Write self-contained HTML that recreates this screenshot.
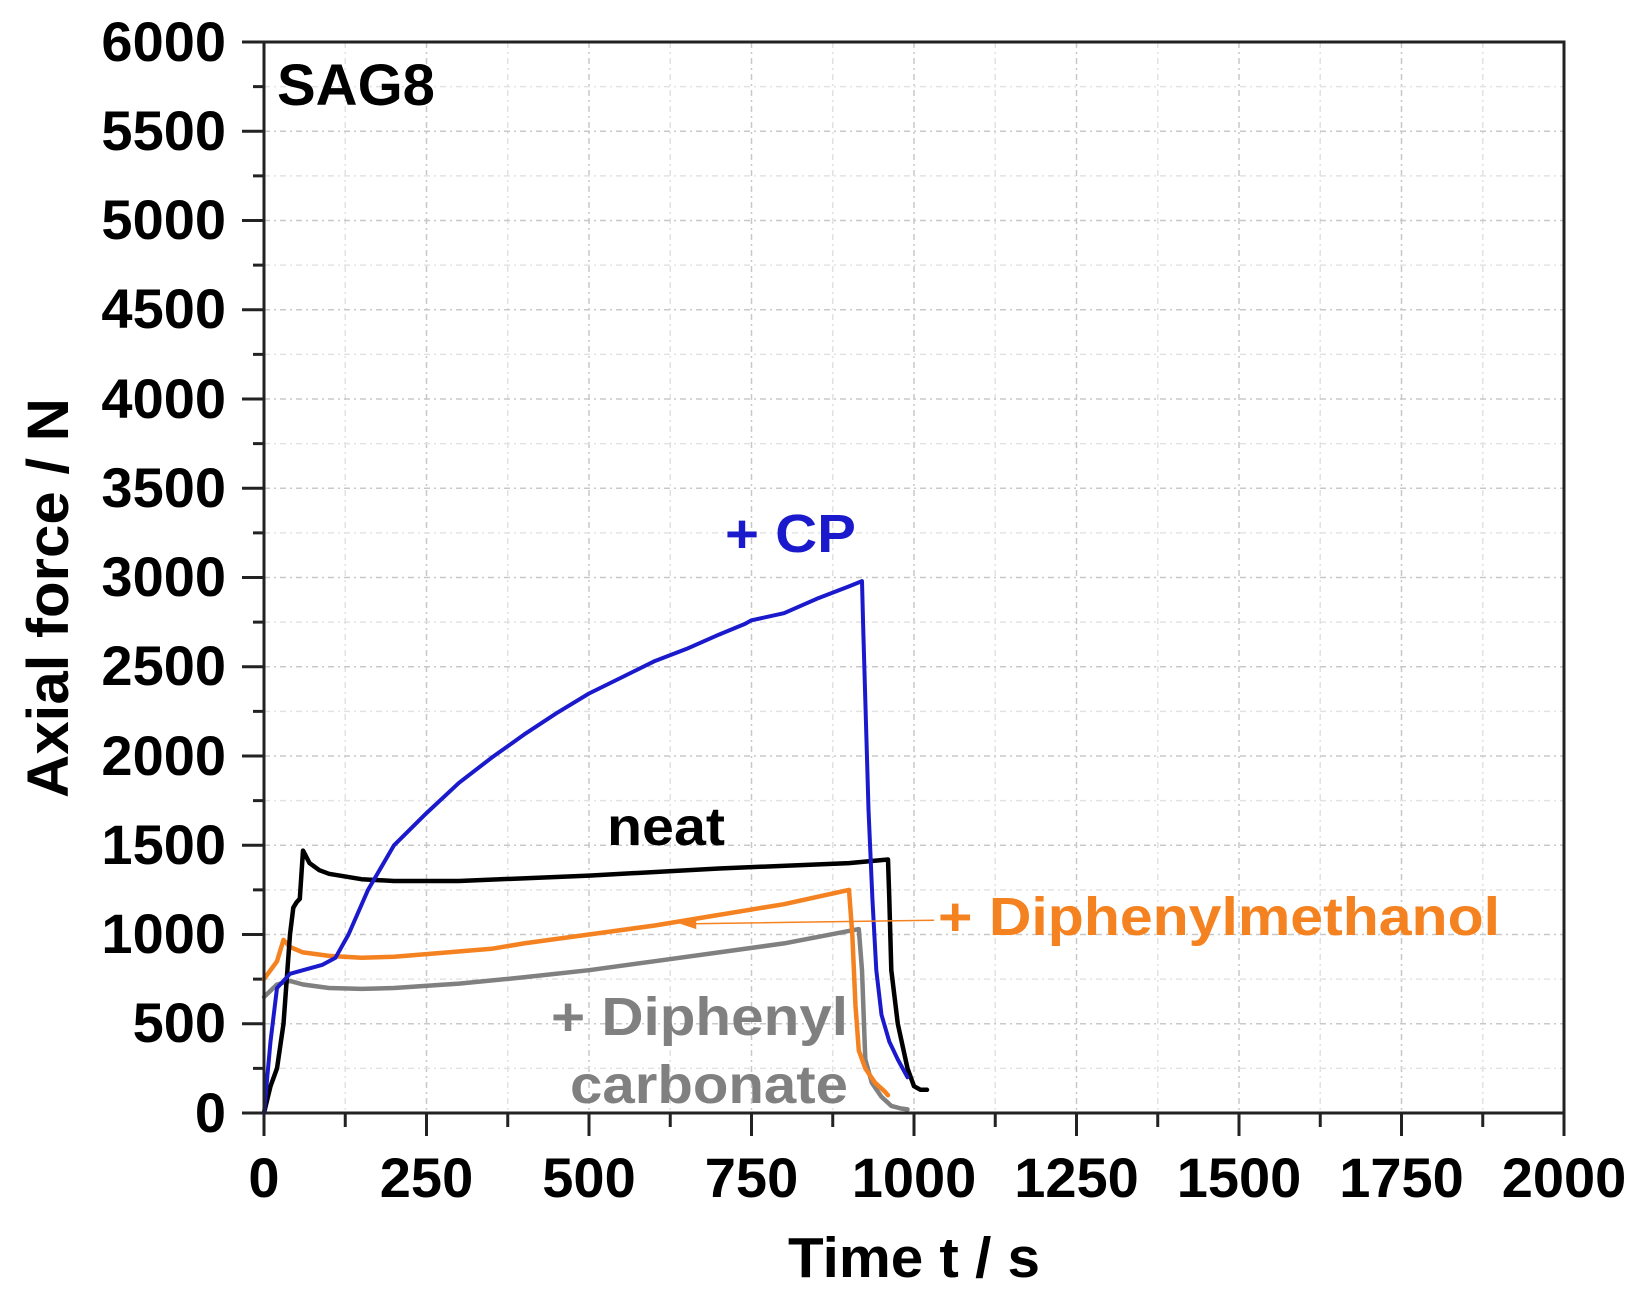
<!DOCTYPE html>
<html><head><meta charset="utf-8"><style>
html,body{margin:0;padding:0;background:#fff;}
svg{display:block;}
text{font-family:"Liberation Sans",Arial,sans-serif;font-weight:bold;}
</style></head><body>
<svg id="s" width="1647" height="1301" viewBox="0 0 1647 1301" xmlns="http://www.w3.org/2000/svg">
<g id="grid"></g>
<g id="ticks"></g>
<g id="curves" fill="none" stroke-linejoin="round" stroke-linecap="round"></g>
<rect x="264" y="42" width="1300" height="1071" fill="none" stroke="#222" stroke-width="3"/>
<line x1="242" y1="42" x2="264" y2="42" stroke="#222" stroke-width="3"/>
<g font-size="56" text-anchor="end" fill="#000">
<text x="226" y="61">6000</text><text x="226" y="150">5500</text><text x="226" y="239">5000</text>
<text x="226" y="328">4500</text><text x="226" y="418">4000</text><text x="226" y="507">3500</text>
<text x="226" y="596">3000</text><text x="226" y="685">2500</text><text x="226" y="775">2000</text>
<text x="226" y="864">1500</text><text x="226" y="953">1000</text><text x="226" y="1042">500</text>
<text x="226" y="1132">0</text>
</g>
<g font-size="56" text-anchor="middle" fill="#000">
<text x="264" y="1197">0</text><text x="426.5" y="1197">250</text><text x="589" y="1197">500</text>
<text x="751.5" y="1197">750</text><text x="914" y="1197">1000</text><text x="1076.5" y="1197">1250</text>
<text x="1239" y="1197">1500</text><text x="1401.5" y="1197">1750</text><text x="1564" y="1197">2000</text>
</g>
<text x="788" y="1277" font-size="57" textLength="252" lengthAdjust="spacingAndGlyphs">Time t / s</text>
<text transform="translate(68,598) rotate(-90)" font-size="58" text-anchor="middle" textLength="400" lengthAdjust="spacingAndGlyphs">Axial force / N</text>
<text x="277" y="105" font-size="58">SAG8</text>
<text x="725" y="552" font-size="54" fill="#1a1acc" textLength="131" lengthAdjust="spacingAndGlyphs">+ CP</text>
<text x="607" y="845" font-size="54" fill="#000" textLength="118" lengthAdjust="spacingAndGlyphs">neat</text>
<text x="938" y="935" font-size="54" fill="#f58220" textLength="562" lengthAdjust="spacingAndGlyphs">+ Diphenylmethanol</text>
<text x="551" y="1035" font-size="54" fill="#808080" textLength="297" lengthAdjust="spacingAndGlyphs">+ Diphenyl</text>
<text x="570" y="1103" font-size="54" fill="#808080" textLength="278" lengthAdjust="spacingAndGlyphs">carbonate</text>
</svg>
<script>
var NS="http://www.w3.org/2000/svg";
function X(t){return 264+0.65*t;} function Y(f){return 1113-0.1785*f;}
function el(p,n,a){var e=document.createElementNS(NS,n);for(var k in a)e.setAttribute(k,a[k]);document.getElementById(p).appendChild(e);return e;}
for(var t=125;t<2000;t+=125){el("grid","line",{x1:X(t),y1:42,x2:X(t),y2:1113,stroke:t%250?"#e2e2e2":"#c8c8c8","stroke-width":1.5,"stroke-dasharray":"6,4,2,4"});}
for(var f=250;f<6000;f+=250){el("grid","line",{x1:264,y1:Y(f),x2:1564,y2:Y(f),stroke:f%500?"#e2e2e2":"#c8c8c8","stroke-width":1.5,"stroke-dasharray":"6,4,2,4"});}
for(var t=0;t<=2000;t+=125){el("ticks","line",{x1:X(t),y1:1113,x2:X(t),y2:t%250?1127:1136,stroke:"#222","stroke-width":3});}
for(var f=0;f<=6000;f+=250){el("ticks","line",{x1:f%500?253:242,y1:Y(f),x2:264,y2:Y(f),stroke:"#222","stroke-width":3});}
function curve(d,c,w){var p=d.map(function(q){return X(q[0]).toFixed(1)+","+Y(q[1]).toFixed(1)}).join(" ");el("curves","polyline",{points:p,stroke:c,"stroke-width":w||4.5});}
curve([[0,650],[20,720],[40,740],[60,720],[100,700],[150,695],[200,700],[300,725],[400,760],[500,800],[600,850],[700,900],[800,950],[915,1030],[920,800],[925,300],[935,170],[950,90],[965,40],[980,25],[990,20]],"#808080");
curve([[0,750],[10,800],[20,850],[30,970],[40,930],[60,900],[100,880],[150,870],[200,875],[250,890],[350,920],[400,950],[500,1000],[600,1050],[700,1110],[800,1170],[900,1250],[905,1000],[910,600],[915,350],[925,250],[940,170],[955,120],[960,100]],"#f58220");
curve([[0,0],[10,150],[20,250],[30,500],[40,1000],[45,1150],[50,1180],[55,1200],[60,1470],[70,1400],[85,1360],[100,1340],[150,1310],[200,1300],[300,1300],[500,1330],[700,1370],[900,1400],[960,1420],[962,1200],[965,800],[975,500],[990,250],[1000,150],[1010,130],[1020,130]],"#000");
curve([[0,0],[10,400],[20,700],[40,780],[60,800],[90,830],[110,870],[130,1000],[160,1250],[200,1500],[250,1680],[300,1850],[350,1990],[400,2120],[450,2240],[500,2350],[550,2440],[600,2530],[650,2600],[700,2680],[740,2740],[750,2760],[800,2800],[850,2880],[900,2950],[920,2980],[922,2700],[926,2200],[930,1700],[936,1200],[942,800],[950,550],[962,400],[975,300],[990,200]],"#1a1acc",4);
el("curves","line",{x1:X(1030),y1:Y(1080),x2:X(660),y2:Y(1060),stroke:"#f58220","stroke-width":1.5});
el("curves","polygon",{points:X(640)+","+Y(1060)+" "+X(665)+","+Y(1090)+" "+X(665)+","+Y(1030),fill:"#f58220",stroke:"none"});
</script>
</body></html>
